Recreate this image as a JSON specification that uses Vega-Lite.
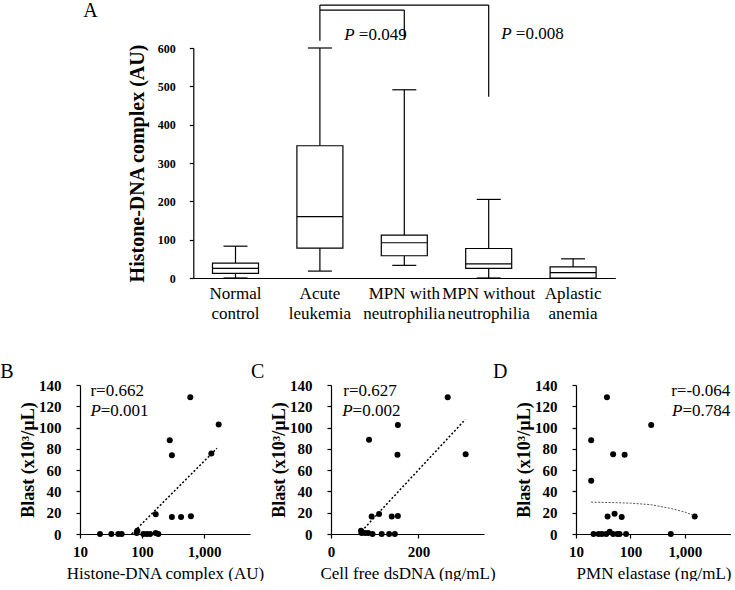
{
 "$schema": "https://vega.github.io/schema/vega-lite/v6.json",
 "padding": {"left": 0, "top": 1, "right": 0, "bottom": 0},
 "background": "white",
 "config": {
  "font": "Liberation Serif",
  "view": {"stroke": null},
  "axis": {"grid": false, "domainColor": "black", "tickColor": "black", "labelColor": "black", "titleColor": "black", "domainWidth": 1.2, "tickWidth": 1.2, "labelFont": "Liberation Serif", "titleFont": "Liberation Serif"},
  "text": {"font": "Liberation Serif", "color": "black"}
 },
 "datasets": {
  "boxes": [
   {"group": "Normal|control", "min": 0, "q1": 12, "median": 25, "q3": 39, "max": 83},
   {"group": "Acute|leukemia", "min": 18, "q1": 78, "median": 160, "q3": 345, "max": 600},
   {"group": "MPN with|neutrophilia", "min": 33, "q1": 58, "median": 92, "q3": 112, "max": 491},
   {"group": "MPN without|neutrophilia", "min": 0, "q1": 25, "median": 37, "q3": 77, "max": 205},
   {"group": "Aplastic|anemia", "min": 0, "q1": 0, "median": 14, "q3": 29, "max": 50}
  ],
  "brackets": [
   {"from": "Acute|leukemia", "to": "MPN without|neutrophilia", "y": 712, "y2": 712},
   {"from": "Acute|leukemia", "to": "MPN with|neutrophilia", "y": 699, "y2": 699},
   {"from": "Acute|leukemia", "to": "Acute|leukemia", "y": 712, "y2": 619},
   {"from": "MPN with|neutrophilia", "to": "MPN with|neutrophilia", "y": 699, "y2": 622},
   {"from": "MPN without|neutrophilia", "to": "MPN without|neutrophilia", "y": 712, "y2": 473}
  ],
  "aP1": [{"at": "Acute|leukemia", "y": 622, "text": "=0.049"}],
  "aP2": [{"at": "MPN without|neutrophilia", "y": 623.5, "text": "=0.008"}],
  "aLetter": [{"at": "Normal|control", "y": 680, "text": "A"}],
  "Bpts": [
   {"x": 21, "y": 0}, {"x": 32, "y": 0}, {"x": 41.5, "y": 0}, {"x": 47, "y": 0},
   {"x": 82, "y": 1}, {"x": 84, "y": 3}, {"x": 105, "y": 0}, {"x": 119, "y": 0},
   {"x": 135, "y": 0}, {"x": 166, "y": 1}, {"x": 183, "y": 0}, {"x": 166, "y": 18.6},
   {"x": 280, "y": 88}, {"x": 303, "y": 74}, {"x": 303, "y": 16}, {"x": 426, "y": 16},
   {"x": 600, "y": 128.5}, {"x": 614, "y": 16.7}, {"x": 1310, "y": 75.6}, {"x": 1720, "y": 102.8}
  ],
  "Btrend": [{"x": 68, "y": 0}, {"x": 1610, "y": 80.5}],
  "Br": [{"x": 14.7, "y": 129.2, "text": "r=0.662"}],
  "Bp": [{"x": 14.7, "y": 111.2, "text": "=0.001"}],
  "Bletter": [{"x": 0.52, "y": 146.6, "text": "B"}],
  "Cpts": [
   {"x": 68.7, "y": 3}, {"x": 70, "y": 1}, {"x": 78, "y": 1}, {"x": 85, "y": 1},
   {"x": 95, "y": 0}, {"x": 116, "y": 0}, {"x": 133, "y": 0}, {"x": 146, "y": 0},
   {"x": 93, "y": 16.4}, {"x": 110, "y": 18.9}, {"x": 139, "y": 16.4}, {"x": 153, "y": 17},
   {"x": 87, "y": 88.5}, {"x": 153, "y": 102.5}, {"x": 152, "y": 74.5}, {"x": 267, "y": 128.5},
   {"x": 308, "y": 75}
  ],
  "Ctrend": [{"x": 64, "y": 0}, {"x": 307, "y": 107.5}],
  "Cr": [{"x": 28, "y": 129.2, "text": "r=0.627"}],
  "Cp": [{"x": 25.6, "y": 111.2, "text": "=0.002"}],
  "Cletter": [{"x": -183, "y": 146.6, "text": "C"}],
  "Dpts": [
   {"x": 19, "y": 88}, {"x": 19, "y": 50}, {"x": 37, "y": 128.5}, {"x": 48, "y": 75},
   {"x": 78, "y": 74.5}, {"x": 240, "y": 102.5}, {"x": 38, "y": 16.5}, {"x": 51, "y": 19},
   {"x": 69, "y": 16}, {"x": 1510, "y": 16.5}, {"x": 21, "y": 0}, {"x": 26, "y": 0},
   {"x": 30, "y": 0}, {"x": 36, "y": 0}, {"x": 41.5, "y": 2}, {"x": 48, "y": 0},
   {"x": 57.5, "y": 0}, {"x": 63, "y": 0}, {"x": 83, "y": 0}, {"x": 550, "y": 0}
  ],
  "Dtrend": [
   {"x": 19, "y": 29.9}, {"x": 50, "y": 29.5}, {"x": 100, "y": 29}, {"x": 240, "y": 27.5},
   {"x": 550, "y": 24}, {"x": 980, "y": 20.7}, {"x": 1450, "y": 17.5}
  ],
  "Dr": [{"x": 6800, "y": 130, "text": "r=-0.064"}],
  "Dp": [{"x": 6800, "y": 111, "text": "=0.784"}],
  "Dletter": [{"x": 0.3, "y": 146.6, "text": "D"}]
 },
 "vconcat": [
  {
   "width": 651,
   "height": 230,
   "layer": [
    {
     "data": {"name": "boxes"},
     "encoding": {
      "x": {"field": "group", "type": "nominal",
            "scale": {"domain": ["Normal|control", "Acute|leukemia", "MPN with|neutrophilia", "MPN without|neutrophilia", "Aplastic|anemia"], "range": [113.3, 535.3], "paddingInner": 0, "paddingOuter": 0},
            "axis": {"title": null, "labelAngle": 0, "ticks": false, "labelExpr": "split(datum.value, '|')", "labelFont": "Liberation Serif",
                     "labelFontSize": 17, "labelLineHeight": 20, "labelPadding": 7, "labelBaseline": "top", "labelFontWeight": "normal"}}
     },
     "layer": [
      {"mark": {"type": "rule", "color": "black", "strokeWidth": 1.2},
       "encoding": {
        "y": {"field": "min", "type": "quantitative", "scale": {"domain": [0, 600], "nice": false},
              "axis": {"title": "Histone-DNA complex (AU)", "values": [0, 100, 200, 300, 400, 500, 600], "offset": -113.3, "labelFont": "Liberation Serif", "titleFont": "Liberation Serif",
                       "labelFontSize": 12, "labelFontWeight": "bold", "tickSize": 4, "labelPadding": 14,
                       "titleFontSize": 20, "titleFontWeight": "bold", "titlePadding": 10}},
        "y2": {"field": "q1"}}},
      {"mark": {"type": "rule", "color": "black", "strokeWidth": 1.2},
       "encoding": {
        "y": {"field": "q3", "type": "quantitative", "scale": {"domain": [0, 600], "nice": false},
              "axis": {"title": "Histone-DNA complex (AU)", "values": [0, 100, 200, 300, 400, 500, 600], "offset": -113.3, "labelFont": "Liberation Serif", "titleFont": "Liberation Serif",
                       "labelFontSize": 12, "labelFontWeight": "bold", "tickSize": 4, "labelPadding": 14,
                       "titleFontSize": 20, "titleFontWeight": "bold", "titlePadding": 10}},
        "y2": {"field": "max"}}},
      {"mark": {"type": "tick", "size": 24, "thickness": 1.2, "color": "black", "opacity": 1},
       "encoding": {"y": {"field": "min", "type": "quantitative", "scale": {"domain": [0, 600], "nice": false},
              "axis": {"title": "Histone-DNA complex (AU)", "values": [0, 100, 200, 300, 400, 500, 600], "offset": -113.3, "labelFont": "Liberation Serif", "titleFont": "Liberation Serif",
                       "labelFontSize": 12, "labelFontWeight": "bold", "tickSize": 4, "labelPadding": 14,
                       "titleFontSize": 20, "titleFontWeight": "bold", "titlePadding": 10}}}},
      {"mark": {"type": "tick", "size": 24, "thickness": 1.2, "color": "black", "opacity": 1},
       "encoding": {"y": {"field": "max", "type": "quantitative", "scale": {"domain": [0, 600], "nice": false},
              "axis": {"title": "Histone-DNA complex (AU)", "values": [0, 100, 200, 300, 400, 500, 600], "offset": -113.3, "labelFont": "Liberation Serif", "titleFont": "Liberation Serif",
                       "labelFontSize": 12, "labelFontWeight": "bold", "tickSize": 4, "labelPadding": 14,
                       "titleFontSize": 20, "titleFontWeight": "bold", "titlePadding": 10}}}},
      {"mark": {"type": "bar", "size": 46, "fill": "white", "stroke": "black", "strokeWidth": 1.2},
       "encoding": {
        "y": {"field": "q1", "type": "quantitative", "scale": {"domain": [0, 600], "nice": false},
              "axis": {"title": "Histone-DNA complex (AU)", "values": [0, 100, 200, 300, 400, 500, 600], "offset": -113.3, "labelFont": "Liberation Serif", "titleFont": "Liberation Serif",
                       "labelFontSize": 12, "labelFontWeight": "bold", "tickSize": 4, "labelPadding": 14,
                       "titleFontSize": 20, "titleFontWeight": "bold", "titlePadding": 10}},
        "y2": {"field": "q3"}}},
      {"mark": {"type": "tick", "size": 46, "thickness": 1.2, "color": "black", "opacity": 1},
       "encoding": {"y": {"field": "median", "type": "quantitative", "scale": {"domain": [0, 600], "nice": false},
              "axis": {"title": "Histone-DNA complex (AU)", "values": [0, 100, 200, 300, 400, 500, 600], "offset": -113.3, "labelFont": "Liberation Serif", "titleFont": "Liberation Serif",
                       "labelFontSize": 12, "labelFontWeight": "bold", "tickSize": 4, "labelPadding": 14,
                       "titleFontSize": 20, "titleFontWeight": "bold", "titlePadding": 10}}}}
     ]
    },
    {
     "data": {"name": "brackets"},
     "mark": {"type": "rule", "color": "black", "strokeWidth": 1.2},
     "encoding": {
      "x": {"field": "from", "type": "nominal",
            "scale": {"domain": ["Normal|control", "Acute|leukemia", "MPN with|neutrophilia", "MPN without|neutrophilia", "Aplastic|anemia"], "range": [113.3, 535.3], "paddingInner": 0, "paddingOuter": 0},
            "axis": {"title": null, "labelAngle": 0, "ticks": false, "labelExpr": "split(datum.value, '|')", "labelFont": "Liberation Serif",
                     "labelFontSize": 17, "labelLineHeight": 20, "labelPadding": 7, "labelBaseline": "top", "labelFontWeight": "normal"}},
      "x2": {"field": "to"},
      "y": {"field": "y", "type": "quantitative", "scale": {"domain": [0, 600], "nice": false},
              "axis": {"title": "Histone-DNA complex (AU)", "values": [0, 100, 200, 300, 400, 500, 600], "offset": -113.3, "labelFont": "Liberation Serif", "titleFont": "Liberation Serif",
                       "labelFontSize": 12, "labelFontWeight": "bold", "tickSize": 4, "labelPadding": 14,
                       "titleFontSize": 20, "titleFontWeight": "bold", "titlePadding": 10}},
      "y2": {"field": "y2"}
     }
    },
    {
     "data": {"name": "aP1"},
     "mark": {"type": "text", "font": "Liberation Serif", "fontStyle": "italic", "fontSize": 17, "align": "left", "baseline": "alphabetic", "dx": 24.4},
     "encoding": {
      "x": {"field": "at", "type": "nominal",
            "scale": {"domain": ["Normal|control", "Acute|leukemia", "MPN with|neutrophilia", "MPN without|neutrophilia", "Aplastic|anemia"], "range": [113.3, 535.3], "paddingInner": 0, "paddingOuter": 0},
            "axis": {"title": null, "labelAngle": 0, "ticks": false, "labelExpr": "split(datum.value, '|')", "labelFont": "Liberation Serif",
                     "labelFontSize": 17, "labelLineHeight": 20, "labelPadding": 7, "labelBaseline": "top", "labelFontWeight": "normal"}},
      "y": {"field": "y", "type": "quantitative", "scale": {"domain": [0, 600], "nice": false},
              "axis": {"title": "Histone-DNA complex (AU)", "values": [0, 100, 200, 300, 400, 500, 600], "offset": -113.3, "labelFont": "Liberation Serif", "titleFont": "Liberation Serif",
                       "labelFontSize": 12, "labelFontWeight": "bold", "tickSize": 4, "labelPadding": 14,
                       "titleFontSize": 20, "titleFontWeight": "bold", "titlePadding": 10}},
      "text": {"value": "P"}
     }
    },
    {
     "data": {"name": "aP1"},
     "mark": {"type": "text", "font": "Liberation Serif", "fontSize": 17, "align": "left", "baseline": "alphabetic", "dx": 38.9},
     "encoding": {
      "x": {"field": "at", "type": "nominal",
            "scale": {"domain": ["Normal|control", "Acute|leukemia", "MPN with|neutrophilia", "MPN without|neutrophilia", "Aplastic|anemia"], "range": [113.3, 535.3], "paddingInner": 0, "paddingOuter": 0},
            "axis": {"title": null, "labelAngle": 0, "ticks": false, "labelExpr": "split(datum.value, '|')", "labelFont": "Liberation Serif",
                     "labelFontSize": 17, "labelLineHeight": 20, "labelPadding": 7, "labelBaseline": "top", "labelFontWeight": "normal"}},
      "y": {"field": "y", "type": "quantitative", "scale": {"domain": [0, 600], "nice": false},
              "axis": {"title": "Histone-DNA complex (AU)", "values": [0, 100, 200, 300, 400, 500, 600], "offset": -113.3, "labelFont": "Liberation Serif", "titleFont": "Liberation Serif",
                       "labelFontSize": 12, "labelFontWeight": "bold", "tickSize": 4, "labelPadding": 14,
                       "titleFontSize": 20, "titleFontWeight": "bold", "titlePadding": 10}},
      "text": {"field": "text"}
     }
    },
    {
     "data": {"name": "aP2"},
     "mark": {"type": "text", "font": "Liberation Serif", "fontStyle": "italic", "fontSize": 17, "align": "left", "baseline": "alphabetic", "dx": 12.6},
     "encoding": {
      "x": {"field": "at", "type": "nominal",
            "scale": {"domain": ["Normal|control", "Acute|leukemia", "MPN with|neutrophilia", "MPN without|neutrophilia", "Aplastic|anemia"], "range": [113.3, 535.3], "paddingInner": 0, "paddingOuter": 0},
            "axis": {"title": null, "labelAngle": 0, "ticks": false, "labelExpr": "split(datum.value, '|')", "labelFont": "Liberation Serif",
                     "labelFontSize": 17, "labelLineHeight": 20, "labelPadding": 7, "labelBaseline": "top", "labelFontWeight": "normal"}},
      "y": {"field": "y", "type": "quantitative", "scale": {"domain": [0, 600], "nice": false},
              "axis": {"title": "Histone-DNA complex (AU)", "values": [0, 100, 200, 300, 400, 500, 600], "offset": -113.3, "labelFont": "Liberation Serif", "titleFont": "Liberation Serif",
                       "labelFontSize": 12, "labelFontWeight": "bold", "tickSize": 4, "labelPadding": 14,
                       "titleFontSize": 20, "titleFontWeight": "bold", "titlePadding": 10}},
      "text": {"value": "P"}
     }
    },
    {
     "data": {"name": "aP2"},
     "mark": {"type": "text", "font": "Liberation Serif", "fontSize": 17, "align": "left", "baseline": "alphabetic", "dx": 27.1},
     "encoding": {
      "x": {"field": "at", "type": "nominal",
            "scale": {"domain": ["Normal|control", "Acute|leukemia", "MPN with|neutrophilia", "MPN without|neutrophilia", "Aplastic|anemia"], "range": [113.3, 535.3], "paddingInner": 0, "paddingOuter": 0},
            "axis": {"title": null, "labelAngle": 0, "ticks": false, "labelExpr": "split(datum.value, '|')", "labelFont": "Liberation Serif",
                     "labelFontSize": 17, "labelLineHeight": 20, "labelPadding": 7, "labelBaseline": "top", "labelFontWeight": "normal"}},
      "y": {"field": "y", "type": "quantitative", "scale": {"domain": [0, 600], "nice": false},
              "axis": {"title": "Histone-DNA complex (AU)", "values": [0, 100, 200, 300, 400, 500, 600], "offset": -113.3, "labelFont": "Liberation Serif", "titleFont": "Liberation Serif",
                       "labelFontSize": 12, "labelFontWeight": "bold", "tickSize": 4, "labelPadding": 14,
                       "titleFontSize": 20, "titleFontWeight": "bold", "titlePadding": 10}},
      "text": {"field": "text"}
     }
    },
    {
     "data": {"name": "aLetter"},
     "mark": {"type": "text", "font": "Liberation Serif", "fontSize": 20, "align": "left", "baseline": "alphabetic", "dx": -152.2},
     "encoding": {
      "x": {"field": "at", "type": "nominal",
            "scale": {"domain": ["Normal|control", "Acute|leukemia", "MPN with|neutrophilia", "MPN without|neutrophilia", "Aplastic|anemia"], "range": [113.3, 535.3], "paddingInner": 0, "paddingOuter": 0},
            "axis": {"title": null, "labelAngle": 0, "ticks": false, "labelExpr": "split(datum.value, '|')", "labelFont": "Liberation Serif",
                     "labelFontSize": 17, "labelLineHeight": 20, "labelPadding": 7, "labelBaseline": "top", "labelFontWeight": "normal"}},
      "y": {"field": "y", "type": "quantitative", "scale": {"domain": [0, 600], "nice": false},
              "axis": {"title": "Histone-DNA complex (AU)", "values": [0, 100, 200, 300, 400, 500, 600], "offset": -113.3, "labelFont": "Liberation Serif", "titleFont": "Liberation Serif",
                       "labelFontSize": 12, "labelFontWeight": "bold", "tickSize": 4, "labelPadding": 14,
                       "titleFontSize": 20, "titleFontWeight": "bold", "titlePadding": 10}},
      "text": {"field": "text"}
     }
    }
   ]
  },
  {
   "hconcat": [
    {
     "width": 170,
     "height": 149,
     "encoding": {
      "x": {"field": "x", "type": "quantitative", "scale": {"type": "log", "domain": [10, 5500], "nice": false},
            "axis": {"title": "Histone-DNA complex (AU)", "values": [10, 100, 1000], "format": ",", "labelFlush": false, "labelFont": "Liberation Serif", "titleFont": "Liberation Serif",
                     "labelFontSize": 15, "labelFontWeight": "bold", "tickSize": 4, "labelPadding": 6,
                     "titleFontSize": 17, "titleFontWeight": "normal", "titlePadding": 6}},
      "y": {"field": "y", "type": "quantitative", "scale": {"domain": [0, 140], "nice": false},
            "axis": {"title": "Blast (x10³/µL)", "values": [0, 20, 40, 60, 80, 100, 120, 140], "labelFont": "Liberation Serif", "titleFont": "Liberation Serif",
                     "labelFontSize": 15, "labelFontWeight": "bold", "tickSize": 4, "labelPadding": 15,
                     "titleFontSize": 18, "titleFontWeight": "bold", "titlePadding": 1}}
     },
     "layer": [
      {"data": {"name": "Bpts"}, "mark": {"type": "point", "filled": true, "size": 36, "color": "black", "opacity": 1}},
      {"data": {"name": "Btrend"}, "mark": {"type": "line", "color": "black", "strokeDash": [2, 2], "strokeWidth": 1.5}},
      {"data": {"name": "Br"}, "mark": {"type": "text", "font": "Liberation Serif", "fontSize": 17, "align": "left", "baseline": "alphabetic"},
       "encoding": {"text": {"field": "text"}}},
      {"data": {"name": "Bp"}, "mark": {"type": "text", "font": "Liberation Serif", "fontSize": 17, "fontStyle": "italic", "align": "left", "baseline": "alphabetic"},
       "encoding": {"text": {"value": "P"}}},
      {"data": {"name": "Bp"}, "mark": {"type": "text", "font": "Liberation Serif", "fontSize": 17, "align": "left", "baseline": "alphabetic", "dx": 10.4},
       "encoding": {"text": {"field": "text"}}},
      {"data": {"name": "Bletter"}, "mark": {"type": "text", "font": "Liberation Serif", "fontSize": 20, "align": "left", "baseline": "alphabetic"},
       "encoding": {"text": {"field": "text"}}}
     ]
    },
    {
     "hconcat": [
      {
       "width": 153,
       "height": 149,
       "encoding": {
        "x": {"field": "x", "type": "quantitative", "scale": {"domain": [0, 350], "nice": false},
              "axis": {"title": "Cell free dsDNA (ng/mL)", "values": [0, 200], "labelFlush": false, "labelFont": "Liberation Serif", "titleFont": "Liberation Serif",
                       "labelFontSize": 15, "labelFontWeight": "bold", "tickSize": 4, "labelPadding": 6,
                       "titleFontSize": 17, "titleFontWeight": "normal", "titlePadding": 6}},
        "y": {"field": "y", "type": "quantitative", "scale": {"domain": [0, 140], "nice": false},
              "axis": {"title": "Blast (x10³/µL)", "values": [0, 20, 40, 60, 80, 100, 120, 140], "labelFont": "Liberation Serif", "titleFont": "Liberation Serif",
                       "labelFontSize": 15, "labelFontWeight": "bold", "tickSize": 4, "labelPadding": 15,
                       "titleFontSize": 18, "titleFontWeight": "bold", "titlePadding": 1}}
       },
       "layer": [
        {"data": {"name": "Cpts"}, "mark": {"type": "point", "filled": true, "size": 36, "color": "black", "opacity": 1}},
        {"data": {"name": "Ctrend"}, "mark": {"type": "line", "color": "black", "strokeDash": [2, 2], "strokeWidth": 1.5}},
        {"data": {"name": "Cr"}, "mark": {"type": "text", "font": "Liberation Serif", "fontSize": 17, "align": "left", "baseline": "alphabetic"},
         "encoding": {"text": {"field": "text"}}},
        {"data": {"name": "Cp"}, "mark": {"type": "text", "font": "Liberation Serif", "fontSize": 17, "fontStyle": "italic", "align": "left", "baseline": "alphabetic"},
         "encoding": {"text": {"value": "P"}}},
        {"data": {"name": "Cp"}, "mark": {"type": "text", "font": "Liberation Serif", "fontSize": 17, "align": "left", "baseline": "alphabetic", "dx": 10.4},
         "encoding": {"text": {"field": "text"}}},
        {"data": {"name": "Cletter"}, "mark": {"type": "text", "font": "Liberation Serif", "fontSize": 20, "align": "left", "baseline": "alphabetic"},
         "encoding": {"text": {"field": "text"}}}
       ]
      },
      {
       "width": 155,
       "height": 149,
       "encoding": {
        "x": {"field": "x", "type": "quantitative", "scale": {"type": "log", "domain": [10, 7000], "nice": false},
              "axis": {"title": "PMN elastase (ng/mL)", "values": [10, 100, 1000], "format": ",", "labelFlush": false, "labelFont": "Liberation Serif", "titleFont": "Liberation Serif",
                       "labelFontSize": 15, "labelFontWeight": "bold", "tickSize": 4, "labelPadding": 6,
                       "titleFontSize": 17, "titleFontWeight": "normal", "titlePadding": 6}},
        "y": {"field": "y", "type": "quantitative", "scale": {"domain": [0, 140], "nice": false},
              "axis": {"title": "Blast (x10³/µL)", "values": [0, 20, 40, 60, 80, 100, 120, 140], "labelFont": "Liberation Serif", "titleFont": "Liberation Serif",
                       "labelFontSize": 15, "labelFontWeight": "bold", "tickSize": 4, "labelPadding": 15,
                       "titleFontSize": 18, "titleFontWeight": "bold", "titlePadding": 1}}
       },
       "layer": [
        {"data": {"name": "Dpts"}, "mark": {"type": "point", "filled": true, "size": 36, "color": "black", "opacity": 1}},
        {"data": {"name": "Dtrend"}, "mark": {"type": "line", "color": "#555555", "strokeDash": [2, 1.5], "strokeWidth": 1}},
        {"data": {"name": "Dr"}, "mark": {"type": "text", "font": "Liberation Serif", "fontSize": 17, "align": "right", "baseline": "alphabetic"},
         "encoding": {"text": {"field": "text"}}},
        {"data": {"name": "Dp"}, "mark": {"type": "text", "font": "Liberation Serif", "fontSize": 17, "fontStyle": "italic", "align": "right", "baseline": "alphabetic", "dx": -47.8},
         "encoding": {"text": {"value": "P"}}},
        {"data": {"name": "Dp"}, "mark": {"type": "text", "font": "Liberation Serif", "fontSize": 17, "align": "right", "baseline": "alphabetic"},
         "encoding": {"text": {"field": "text"}}},
        {"data": {"name": "Dletter"}, "mark": {"type": "text", "font": "Liberation Serif", "fontSize": 20, "align": "left", "baseline": "alphabetic"},
         "encoding": {"text": {"field": "text"}}}
       ]
      }
     ],
     "spacing": 92,
     "bounds": "flush"
    }
   ],
   "spacing": 81,
   "bounds": "flush"
  }
 ],
 "spacing": 107,
 "bounds": "flush"
}
